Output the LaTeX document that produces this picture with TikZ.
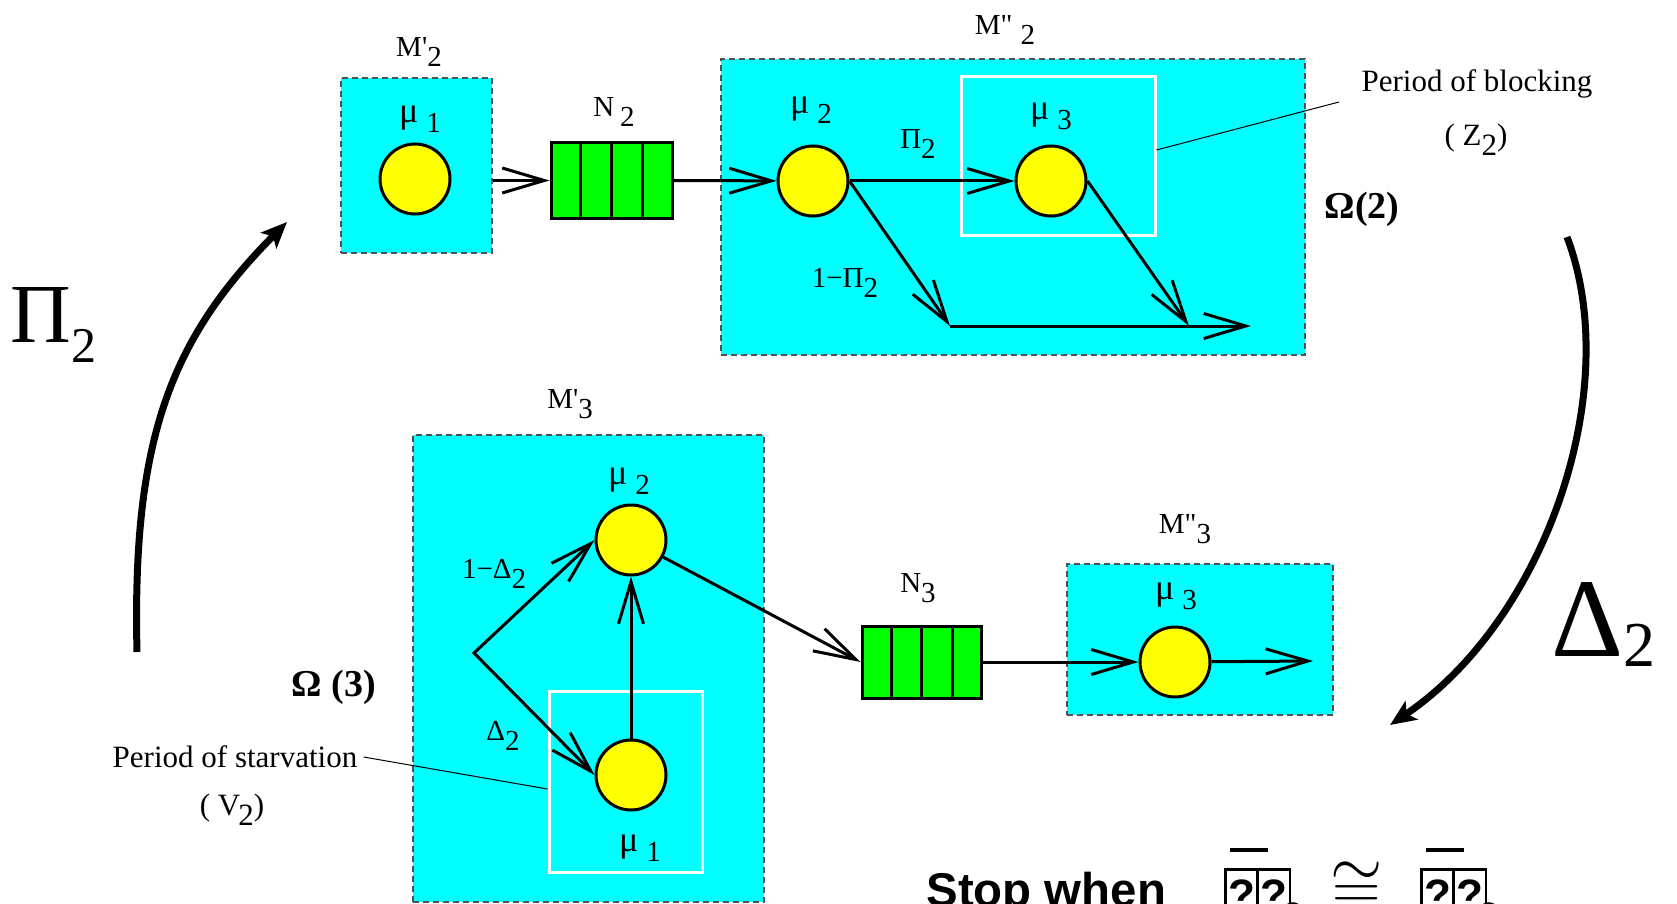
\documentclass[tikz,border=0pt]{standalone}
\usepackage{fontspec}
\setmainfont{Liberation Serif}[Ligatures=TeXOff]
\setsansfont{Liberation Sans}[Ligatures=TeXOff]
\usetikzlibrary{arrows.meta,calc,fit}
\definecolor{stagec}{HTML}{00FFFF}
\definecolor{srvc}{HTML}{FFFF00}
\definecolor{quec}{HTML}{00FF00}
\definecolor{edgec}{HTML}{505050}
\tikzset{
  stage/.style={draw=edgec, fill=stagec, dash pattern=on 3pt off 2pt, line width=0.6pt, inner sep=0pt},
  zone/.style={draw=white, line width=1.5pt, inner sep=0pt},
  srv/.style={circle, draw=black, fill=srvc, line width=1.5pt, inner sep=0pt, minimum size=35pt},
  que/.style={rectangle, draw=black, fill=quec, line width=1.5pt, inner sep=0pt},
  flow/.style={line width=1.5pt, -{Straight Barb[length=21pt,width=12.5pt,line width=1.5pt]}},
  lead/.style={line width=0.5pt},
  cycle/.style={line width=3.5pt, -{Stealth[length=13pt,width=11pt,inset=3pt]}},
  lbl/.style={font=\fontsize{14.5}{16}\selectfont, inner sep=0pt},
  note/.style={font=\fontsize{15.5}{18}\selectfont, inner sep=0pt},
  omg/.style={font=\fontsize{19}{22}\selectfont\bfseries, inner sep=0pt},
}
\newcommand{\dn}[1]{\raisebox{-5pt}{#1}}
\newcommand{\mul}[1]{{\fontsize{18}{18}\selectfont μ}\hspace{4pt}\raisebox{-5pt}{#1}}
\newcommand{\nogl}{{\fboxsep=0.6pt\fboxrule=1.4pt\fbox{\rule[-3pt]{0pt}{22pt}?}}}
\newcommand{\badsym}{\rlap{\kern3pt\raisebox{29pt}{\rule{19pt}{1.8pt}}}\nogl\kern-1.4pt\nogl\kern-4pt\raisebox{-8pt}{\fontsize{17}{17}\selectfont 2}}

\begin{document}
\begin{tikzpicture}[x=0.5pt,y=-0.5pt]
  \useasboundingbox (0,0) rectangle (1677,904);
  % machine boxes
  \node[stage, fit={(341,78) (492,253)}] (m2a) {};
  \node[stage, fit={(721,59) (1305,355)}] (m2b) {};
  \node[stage, fit={(413,435) (764,902)}] (m3a) {};
  \node[stage, fit={(1067,564) (1333,715)}] (m3b) {};
  % blocking and starvation zones
  \node[zone, fit={(961,77) (1155,235)}] (blk) {};
  \node[zone, fit={(549,691) (702,872)}] (stv) {};
  % buffers
  \node[que, fit={(551,143) (672,218)}] (n2) {};
  \node[que, fit={(862,626) (981,698)}] (n3) {};
  \foreach \q in {n2,n3}
    \foreach \k in {1,2,3}
      \draw[line width=1.5pt] ($(\q.north west)!\k/4!(\q.north east)$) -- ($(\q.south west)!\k/4!(\q.south east)$);
  % servers
  \node[srv] (s1a) at (415,179) {};
  \node[srv] (s2a) at (813,181) {};
  \node[srv] (s3a) at (1051,181) {};
  \node[srv] (s2b) at (631,540) {};
  \node[srv] (s1b) at (631,775) {};
  \node[srv] (s3b) at (1175,662) {};
  \coordinate (j1) at (950,326);
  \coordinate (j2) at (1189,326);
  \coordinate (o2) at (1251,326);
  \coordinate (sp) at (474,653);
  \coordinate (o3) at (1313,661);
  % flows
  \draw[flow] (m2a.east |- n2) -- (n2.west);
  \draw[flow] (n2.east) -- (s2a);
  \draw[flow] (s2a) -- (s3a);
  \draw[flow] (s2a.east) -- (j1);
  \draw[flow] (s3a.east) -- (j2);
  \draw[flow] (j1) -- (o2);
  \draw[line width=1.5pt, {Straight Barb[length=21pt,width=12.5pt,line width=1.5pt]}-{Straight Barb[length=21pt,width=12.5pt,line width=1.5pt]}] (s2b.west) -- (sp) -- (s1b.west);
  \draw[flow] (s1b) -- (s2b);
  \draw[flow] (s2b) -- (n3.west);
  \draw[flow] (n3.east) -- (s3b);
  \draw[flow] (s3b) -- (o3);
  % labels
  \node[lbl] (tm2a) at (419,52) {M'\dn{2}};
  \node[lbl] (tm2b) at (1005,30) {M"\hspace{4pt}\dn{2}};
  \node[lbl] (tm3a) at (570,404) {M'\dn{3}};
  \node[lbl] (tm3b) at (1185,529) {M"\dn{3}};
  \node[lbl] (tn2) at (614,112) {N\hspace{3pt}\dn{2}};
  \node[lbl] (tn3) at (918,588) {N\dn{3}};
  \node[lbl] (tu1a) at (420,119) {\mul{1}};
  \node[lbl] (tu2a) at (811,110) {\mul{2}};
  \node[lbl] (tu3a) at (1051,116) {\mul{3}};
  \node[lbl] (tu2b) at (629,481) {\mul{2}};
  \node[lbl] (tu1b) at (640,848) {\mul{1}};
  \node[lbl] (tu3b) at (1176,596) {\mul{3}};
  \node[lbl] (tpi) at (918,144) {Π\dn{2}};
  \node[lbl] (tpic) at (845,283) {1−Π\dn{2}};
  \node[lbl] (tdc) at (494,574) {1−Δ\dn{2}};
  \node[lbl] (tdl) at (503,736) {Δ\dn{2}};
  \node[omg] (tom2) at (1362,209) {Ω(2)};
  \node[omg] (tom3) at (334,687) {Ω (3)};
  \node[note] (tblk) at (1477,84) {Period of blocking};
  \node[note] (tz) at (1476,140) {( Z\dn{2})};
  \node[note] (tstv) at (235,757) {Period of starvation};
  \node[note] (tv) at (232,810) {( V\kern-1pt\dn{2})};
  \coordinate (lb) at (1339,102);
  \draw[lead] ([yshift=3pt]blk.east) -- (lb);
  \draw[lead] ([xshift=3pt]tstv.east) -- ([yshift=-3.75pt]stv.west);
  % iteration arrows
  \coordinate (ca) at (137,652);
  \coordinate (cb) at (287,222);
  \coordinate (cc) at (1567,237);
  \coordinate (cd) at (1390,725);
  \draw[cycle] (ca) .. controls (132,440) and (170,340) .. (cb);
  \draw[cycle] (cc) .. controls (1625,390) and (1545,620) .. (cd);
  \node[anchor=base west, inner sep=0pt, font=\fontsize{42}{42}\selectfont] (bpi) at (10,342) {Π\raisebox{-10pt}{\fontsize{25}{25}\selectfont 2}};
  \node[anchor=base west, inner sep=0pt, font=\fontsize{56}{56}\selectfont] (bdl) at (1551,656) {Δ\raisebox{-5pt}{\fontsize{32}{32}\selectfont 2}};
  % stop rule
  \node[anchor=base west, inner sep=0pt, font=\fontsize{23.7}{26}\sffamily\bfseries] (stop) at (926,906) {Stop when};
  \node[anchor=base west, inner sep=0pt, font=\fontsize{22}{22}\sffamily\bfseries] (th1) at (1224,910) {\badsym};
  \node[anchor=base west, inner sep=0pt, font=\fontsize{24}{24}\selectfont] (apx) at (1330,908) {\scalebox{1.35}{$\cong$}};
  \node[anchor=base west, inner sep=0pt, font=\fontsize{22}{22}\sffamily\bfseries] (th2) at (1420,910) {\badsym};
\end{tikzpicture}
\end{document}
